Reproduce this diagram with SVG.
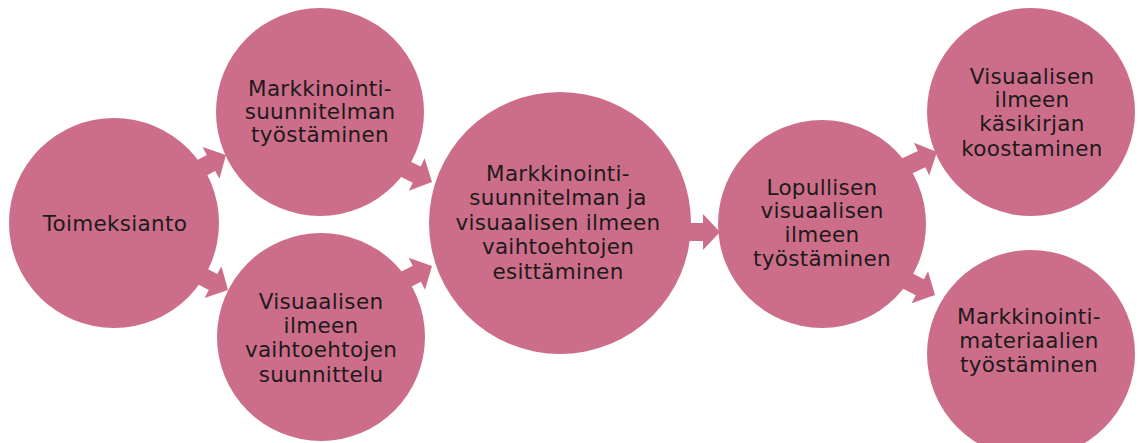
<svg xmlns="http://www.w3.org/2000/svg" width="1141" height="443" viewBox="0 0 1141 443">
  <style>
    .node { fill: #cc6e8a; }
    .arrow { fill: #cc6e8a; }
    text { font-family: "DejaVu Sans", "Verdana", sans-serif; font-size: 21.5px; letter-spacing: 0.3px; fill: #1e1a1c; text-anchor: middle; }
  </style>
  <defs>
    <polygon id="arr" points="-40,-9 -17,-9 -17,-18 0,0 -17,18 -17,9 -40,9"/>
  </defs>
  <rect width="1141" height="443" fill="#ffffff"/>
  <g id="connectors">
    <use href="#arr" class="arrow" transform="translate(226,155) rotate(-28)"/>
    <use href="#arr" class="arrow" transform="translate(228,290) rotate(28)"/>
    <use href="#arr" class="arrow" transform="translate(432,182) rotate(26)"/>
    <use href="#arr" class="arrow" transform="translate(432,266) rotate(-27)"/>
    <use href="#arr" class="arrow" transform="translate(720,232) rotate(0)"/>
    <use href="#arr" class="arrow" transform="translate(937,152) rotate(-25)"/>
    <use href="#arr" class="arrow" transform="translate(935,295) rotate(27)"/>
  </g>
  <g id="n1">
    <circle class="node" cx="114" cy="223" r="105"/>
    <text x="115" y="231">Toimeksianto</text>
  </g>
  <g id="n2">
    <circle class="node" cx="320" cy="112" r="104"/>
    <text><tspan x="320" y="96">Markkinointi-</tspan><tspan x="320" y="119">suunnitelman</tspan><tspan x="320" y="142">työstäminen</tspan></text>
  </g>
  <g id="n3">
    <circle class="node" cx="321" cy="337" r="104"/>
    <text><tspan x="321" y="309">Visuaalisen</tspan><tspan x="321" y="333">ilmeen</tspan><tspan x="321" y="357">vaihtoehtojen</tspan><tspan x="321" y="382">suunnittelu</tspan></text>
  </g>
  <g id="n4">
    <circle class="node" cx="560" cy="223" r="131"/>
    <text><tspan x="558" y="181">Markkinointi-</tspan><tspan x="558" y="205">suunnitelman ja</tspan><tspan x="558" y="230">visuaalisen ilmeen</tspan><tspan x="558" y="254">vaihtoehtojen</tspan><tspan x="558" y="279">esittäminen</tspan></text>
  </g>
  <g id="n5">
    <circle class="node" cx="822" cy="224" r="104"/>
    <text><tspan x="822" y="195">Lopullisen</tspan><tspan x="822" y="218">visuaalisen</tspan><tspan x="822" y="242">ilmeen</tspan><tspan x="822" y="266">työstäminen</tspan></text>
  </g>
  <g id="n6">
    <circle class="node" cx="1031" cy="112" r="104"/>
    <text><tspan x="1032" y="84">Visuaalisen</tspan><tspan x="1032" y="107">ilmeen</tspan><tspan x="1032" y="131">käsikirjan</tspan><tspan x="1032" y="156">koostaminen</tspan></text>
  </g>
  <g id="n7">
    <circle class="node" cx="1031" cy="354" r="104"/>
    <text><tspan x="1029" y="324">Markkinointi-</tspan><tspan x="1029" y="348">materiaalien</tspan><tspan x="1029" y="372">työstäminen</tspan></text>
  </g>
</svg>
